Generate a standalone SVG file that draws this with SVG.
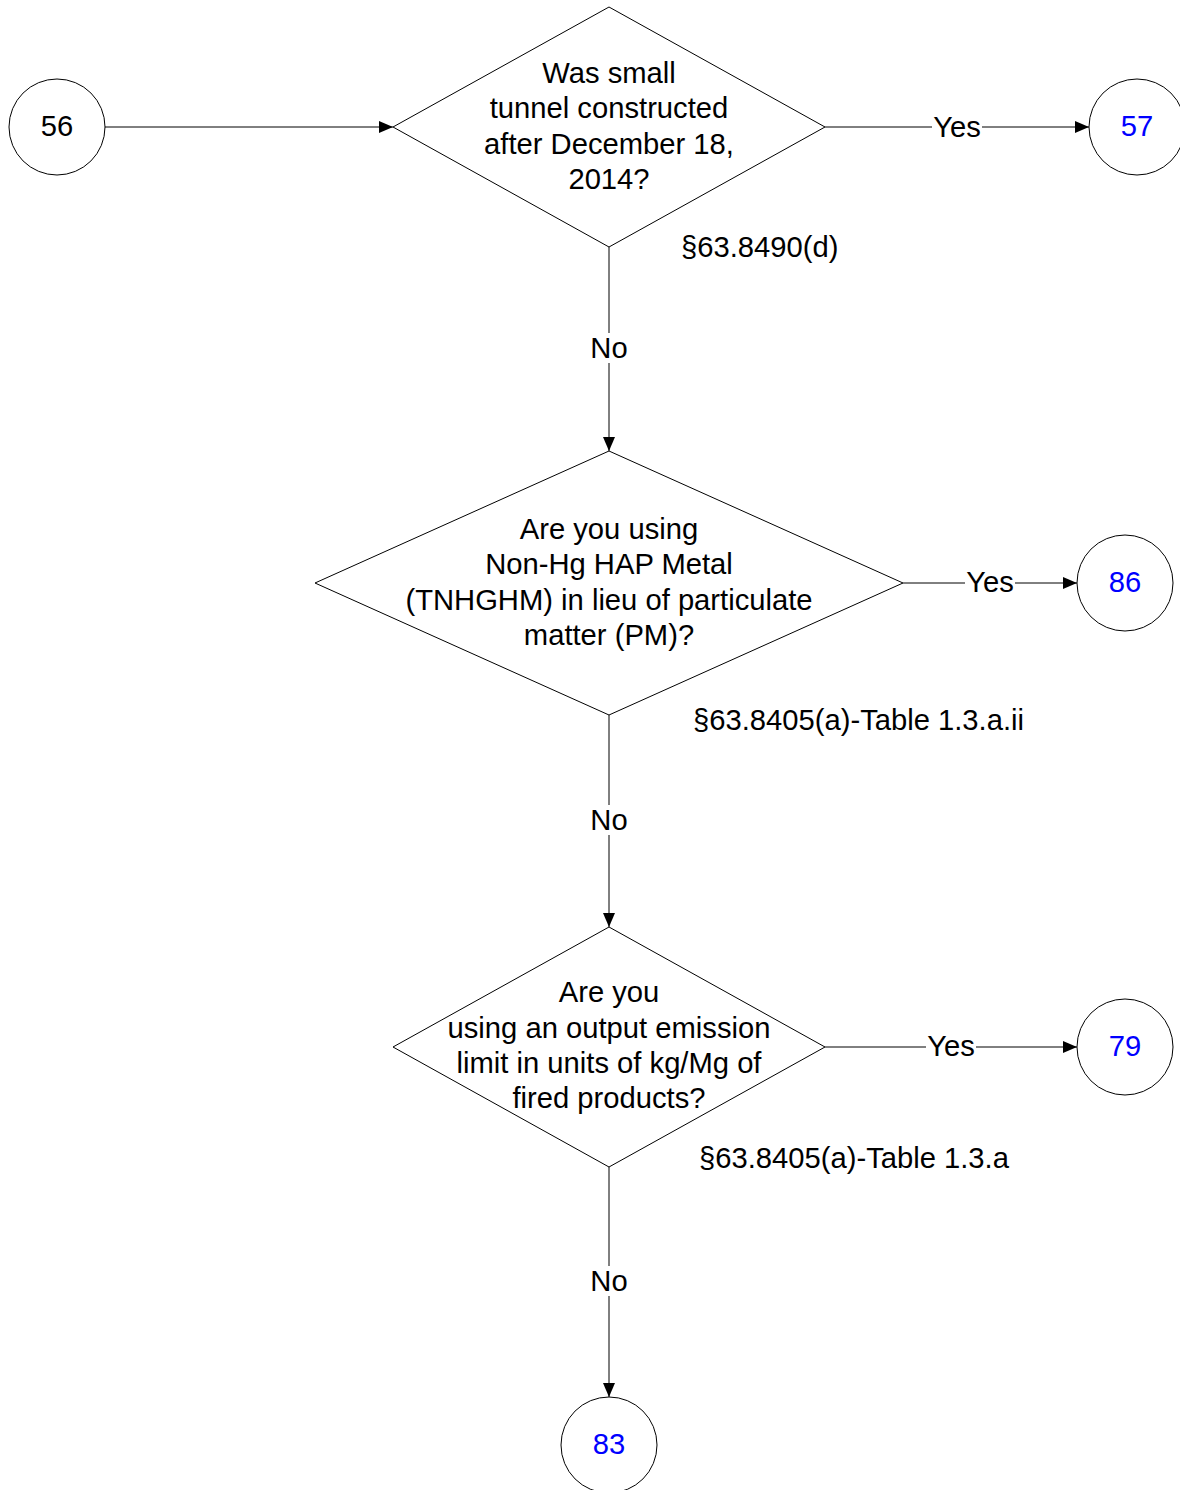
<svg xmlns="http://www.w3.org/2000/svg" width="1180" height="1490" viewBox="0 0 1180 1490">
<style>
text{font-family:"Liberation Sans",Arial,sans-serif;font-size:29.2px;fill:#000}
.c{text-anchor:middle}
.blue{fill:#0000FF}
.shape{fill:#fff;stroke:#000;stroke-width:1}
.conn{fill:none;stroke:#000;stroke-width:1}
.lbl{fill:#fff;stroke:none}
</style>
<defs>
<marker id="arr" viewBox="0 0 14 12" refX="14" refY="6" markerWidth="14" markerHeight="12" markerUnits="userSpaceOnUse" orient="auto">
<path d="M0,0 L14,6 L0,12 Z" fill="#000"/>
</marker>
</defs>
<g id="connectors">
<path class="conn" d="M105,127 H393" marker-end="url(#arr)"/>
<path class="conn" d="M825,127 H1089" marker-end="url(#arr)"/>
<rect class="lbl" x="932" y="112" width="50" height="30"/>
<text class="c" x="957" y="137">Yes</text>
<path class="conn" d="M609,247 V451" marker-end="url(#arr)"/>
<rect class="lbl" x="590" y="333" width="38" height="30"/>
<text class="c" x="609" y="358">No</text>
<path class="conn" d="M903,583 H1077" marker-end="url(#arr)"/>
<rect class="lbl" x="965" y="568" width="50" height="30"/>
<text class="c" x="990" y="592">Yes</text>
<path class="conn" d="M609,715 V927" marker-end="url(#arr)"/>
<rect class="lbl" x="590" y="805" width="38" height="30"/>
<text class="c" x="609" y="830">No</text>
<path class="conn" d="M825,1047 H1077" marker-end="url(#arr)"/>
<rect class="lbl" x="926" y="1032" width="50" height="30"/>
<text class="c" x="951" y="1056">Yes</text>
<path class="conn" d="M609,1167 V1397" marker-end="url(#arr)"/>
<rect class="lbl" x="590" y="1266" width="38" height="30"/>
<text class="c" x="609" y="1291">No</text>
</g>
<g id="n56">
<circle class="shape" cx="57" cy="127" r="48"/>
<text class="c" x="57" y="136">56</text>
</g>
<g id="d1">
<polygon class="shape" points="609,7 825,127 609,247 393,127"/>
<text class="c" x="609" y="83">Was small</text>
<text class="c" x="609" y="118">tunnel constructed</text>
<text class="c" x="609" y="154">after December 18,</text>
<text class="c" x="609" y="189">2014?</text>
</g>
<text id="ref1" x="681" y="257">§63.8490(d)</text>
<g id="n57">
<circle class="shape" cx="1137" cy="127" r="48"/>
<text class="c blue" x="1137" y="136">57</text>
</g>
<g id="d2">
<polygon class="shape" points="609,451 903,583 609,715 315,583"/>
<text class="c" x="609" y="539">Are you using</text>
<text class="c" x="609" y="574">Non-Hg HAP Metal</text>
<text class="c" x="609" y="610">(TNHGHM) in lieu of particulate</text>
<text class="c" x="609" y="645">matter (PM)?</text>
</g>
<text id="ref2" x="693" y="730">§63.8405(a)-Table 1.3.a.ii</text>
<g id="n86">
<circle class="shape" cx="1125" cy="583" r="48"/>
<text class="c blue" x="1125" y="592">86</text>
</g>
<g id="d3">
<polygon class="shape" points="609,927 825,1047 609,1167 393,1047"/>
<text class="c" x="609" y="1002">Are you</text>
<text class="c" x="609" y="1038">using an output emission</text>
<text class="c" x="609" y="1073">limit in units of kg/Mg of</text>
<text class="c" x="609" y="1108">fired products?</text>
</g>
<text id="ref3" x="699" y="1168">§63.8405(a)-Table 1.3.a</text>
<g id="n79">
<circle class="shape" cx="1125" cy="1047" r="48"/>
<text class="c blue" x="1125" y="1056">79</text>
</g>
<g id="n83">
<circle class="shape" cx="609" cy="1445" r="48"/>
<text class="c blue" x="609" y="1454">83</text>
</g>
</svg>
